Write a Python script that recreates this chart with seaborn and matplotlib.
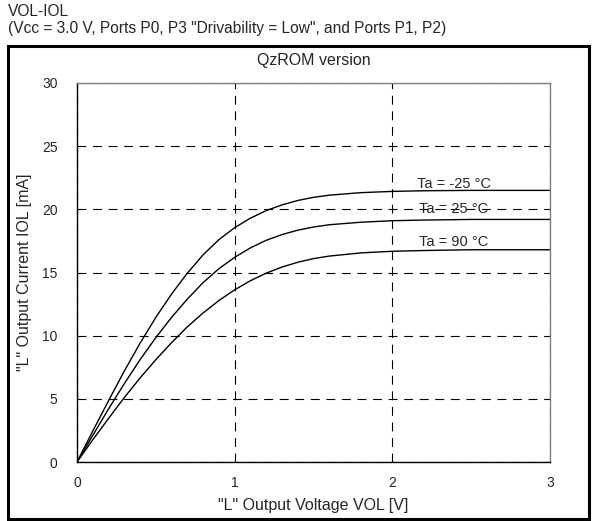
import numpy as np
import pandas as pd
import matplotlib
matplotlib.use("Agg")
import matplotlib.pyplot as plt
from matplotlib.patches import Rectangle
import seaborn as sns

# Data ---------------------------------------------------------------------------
VOL = [0.0, 0.1, 0.2, 0.3, 0.4, 0.5, 0.6, 0.7, 0.8, 0.9, 1.0, 1.1, 1.2, 1.3,
       1.4, 1.5, 1.6, 1.8, 2.0, 2.2, 2.5, 3.0]
IOL_M25 = [0.0, 2.45, 4.85, 7.2, 9.4, 11.45, 13.3, 14.95, 16.4, 17.6, 18.55, 19.3,
           19.9, 20.35, 20.7, 20.95, 21.12, 21.32, 21.42, 21.47, 21.5, 21.5]
IOL_25 = [0.0, 2.1, 4.2, 6.2, 8.1, 9.85, 11.45, 12.9, 14.2, 15.3, 16.2, 16.95,
          17.55, 18.0, 18.35, 18.6, 18.78, 18.98, 19.1, 19.15, 19.2, 19.2]
IOL_90 = [0.0, 1.75, 3.45, 5.1, 6.65, 8.1, 9.45, 10.7, 11.8, 12.78, 13.63, 14.35,
          14.95, 15.43, 15.81, 16.1, 16.3, 16.55, 16.68, 16.74, 16.8, 16.8]
TEMPS = ["Ta = -25 °C", "Ta = 25 °C", "Ta = 90 °C"]
LABEL_POS = [(2.39, 22.0), (2.39, 20.0), (2.39, 17.4)]
X_TICKS = [0, 1, 2, 3]
Y_TICKS = [0, 5, 10, 15, 20, 25, 30]

sns.set_style("white")
plt.rcParams["font.family"] = ["Liberation Sans", "DejaVu Sans"]

df = pd.concat([
    pd.DataFrame({"VOL": VOL, "IOL": v, "Ta": t})
    for v, t in zip([IOL_M25, IOL_25, IOL_90], TEMPS)
], ignore_index=True)

fig = plt.figure(figsize=(5.93, 5.21), dpi=100)
ax = fig.add_axes([77 / 593, 1 - 462 / 521, (550 - 77) / 593, (462 - 83) / 521])

sns.lineplot(data=df, x="VOL", y="IOL", hue="Ta", palette=["black"] * 3,
             linewidth=1.0, legend=False, ax=ax, estimator=None, sort=False)

ax.set_xlim(0, 3)
ax.set_ylim(0, 30)
ax.set_xticks(X_TICKS)
ax.set_yticks(Y_TICKS)
ax.grid(True, color="black", ls=(0, (8, 6)), lw=0.8)
ax.tick_params(axis="x", labelsize=10, length=3, pad=7, color="#555555")
ax.tick_params(axis="y", labelsize=10, length=0, pad=14)

for side in ["left", "bottom"]:
    ax.spines[side].set_color("black")
    ax.spines[side].set_linewidth(1.0)
for side in ["top", "right"]:
    ax.spines[side].set_color("#808080")
    ax.spines[side].set_linewidth(1.0)

for t, (x, y) in zip(TEMPS, LABEL_POS):
    ax.text(x, y, t, ha="center", va="center", fontsize=10.5)

ax.set_xlabel('"L" Output Voltage VOL [V]', fontsize=11.5, labelpad=6)
ax.set_ylabel('"L" Output Current IOL [mA]', fontsize=11.5, labelpad=7)
ax.set_title("QzROM version", fontsize=11.5, pad=13)

fig.text(8 / 593, 1 - 11 / 521, "VOL-IOL", fontsize=11.2, va="center", ha="left")
fig.text(8 / 593, 1 - 29 / 521,
         '(Vcc = 3.0 V, Ports P0, P3 "Drivability = Low", and Ports P1, P2)',
         fontsize=11.2, va="center", ha="left")

fig.patches.append(Rectangle((8 / 593, 1 - 519 / 521), (589 - 8) / 593, (519 - 46) / 521,
                             transform=fig.transFigure, fill=False,
                             edgecolor="black", linewidth=2.2))

fig.savefig("out.png", dpi=100)
